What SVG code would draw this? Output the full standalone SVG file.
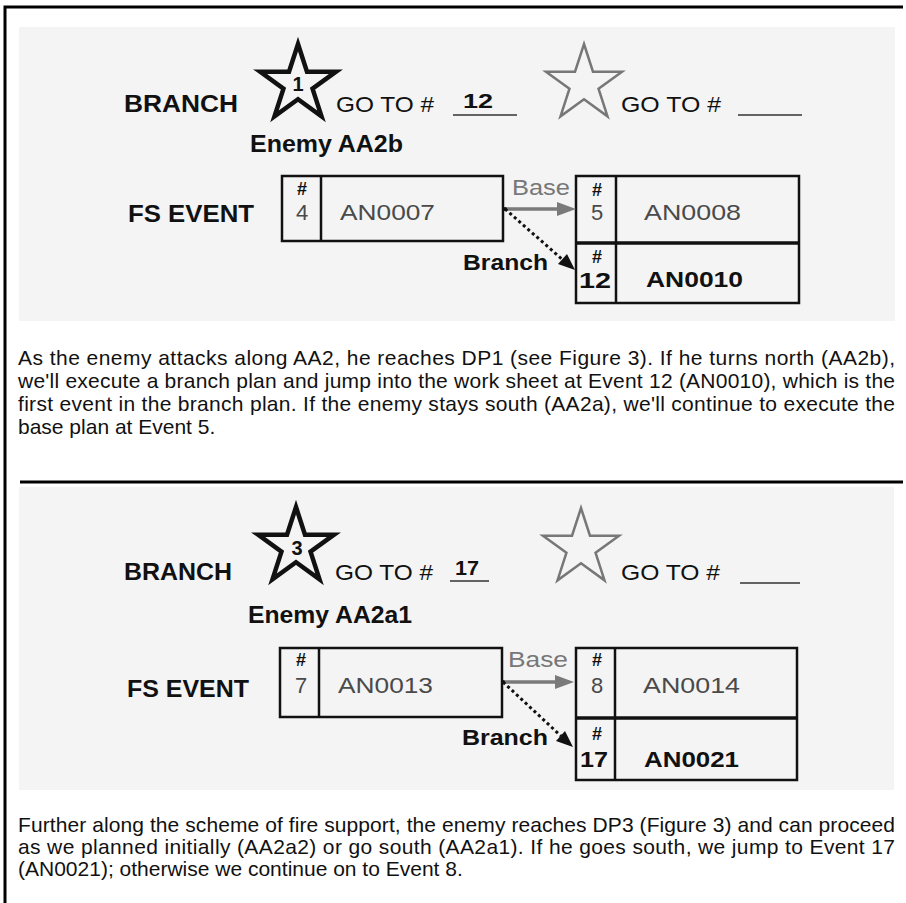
<svg xmlns="http://www.w3.org/2000/svg" width="906" height="903" viewBox="0 0 906 903">
<style>
.lbl{font-family:"Liberation Sans",Arial,sans-serif;font-size:22px;fill:#111}
.b{font-weight:bold}
.g{fill:#4a4a4a}
.lg{fill:#777}
.hash{font-family:"Liberation Sans",Arial,sans-serif;font-size:18px;font-weight:bold;fill:#111;text-anchor:middle}
.num{text-anchor:middle}
.para{font-family:"Liberation Sans",Arial,sans-serif;font-size:21px;fill:#111}
.box{fill:none;stroke:#111;stroke-width:2.5}
.starB{fill:none;stroke:#111;stroke-width:4.5;stroke-linejoin:miter}
.starG{fill:none;stroke:#777;stroke-width:2.5;stroke-linejoin:miter}
.ul{stroke:#333;stroke-width:1.5}
.frame{stroke:#000;stroke-width:3;fill:none}
.scan{fill:#f4f4f4}
.base{stroke:#7a7a7a;stroke-width:3.5;fill:none}
.brn{stroke:#111;stroke-width:3;stroke-dasharray:3 3;fill:none}
</style>
<defs>
<path id="star" d="M0,-40 L8.98,-12.36 L38.04,-12.36 L14.53,4.72 L23.51,32.36 L0,15.28 L-23.51,32.36 L-14.53,4.72 L-38.04,-12.36 L-8.98,-12.36 Z"/>
</defs>
<rect width="906" height="903" fill="#fff"/>
<!-- frame -->
<path class="frame" d="M5,903 V7 H903"/>
<line class="frame" x1="20" y1="482" x2="903" y2="482"/>
<!-- scanned backgrounds -->
<rect class="scan" x="19" y="27" width="876" height="294"/>
<rect class="scan" x="19" y="487" width="875" height="303"/>

<!-- ===== Section 1 ===== -->
<g id="header1">
<text class="lbl b" x="124" y="112" style="font-size:23px" textLength="114" lengthAdjust="spacingAndGlyphs">BRANCH</text>
<use href="#star" class="starB" x="298" y="84"/>
<text class="lbl b num" x="298" y="91" style="font-size:20px">1</text>
<text class="lbl" x="336" y="112" textLength="98" lengthAdjust="spacingAndGlyphs">GO TO #</text>
<text class="lbl b" x="463" y="108" style="font-size:20px" textLength="30" lengthAdjust="spacingAndGlyphs">12</text>
<line class="ul" x1="453" y1="115" x2="517" y2="115"/>
<use href="#star" class="starG" x="584" y="84"/>
<text class="lbl" x="621" y="112" textLength="100" lengthAdjust="spacingAndGlyphs">GO TO #</text>
<line class="ul" x1="738" y1="115" x2="802" y2="115"/>
<text class="lbl b" x="250" y="152" style="font-size:23px" textLength="153" lengthAdjust="spacingAndGlyphs">Enemy AA2b</text>
<text class="lbl b" x="128" y="222" style="font-size:23px" textLength="126" lengthAdjust="spacingAndGlyphs">FS EVENT</text>
</g>
<g id="event4">
<rect class="box" x="282" y="176" width="221" height="65"/>
<line class="box" x1="321" y1="176" x2="321" y2="241"/>
<text class="hash" x="302" y="195">#</text>
<text class="lbl g num" x="302" y="220">4</text>
<text class="lbl g" x="340" y="220" textLength="95" lengthAdjust="spacingAndGlyphs">AN0007</text>
</g>
<g id="event5-12">
<rect class="box" x="576" y="176" width="223" height="127"/>
<line class="box" x1="616" y1="176" x2="616" y2="303"/>
<line x1="576" y1="243" x2="799" y2="243" stroke="#111" stroke-width="3.5"/>
<text class="hash" x="597" y="196">#</text>
<text class="lbl g num" x="597" y="220">5</text>
<text class="lbl g" x="644" y="220" textLength="97" lengthAdjust="spacingAndGlyphs">AN0008</text>
<text class="hash" x="597" y="263">#</text>
<text class="lbl b num" x="595" y="288" textLength="32" lengthAdjust="spacingAndGlyphs">12</text>
<text class="lbl b" x="646" y="287" textLength="97" lengthAdjust="spacingAndGlyphs">AN0010</text>
</g>
<g id="connectors1">
<text class="lbl lg" x="512" y="195" textLength="58" lengthAdjust="spacingAndGlyphs">Base</text>
<line class="base" x1="505" y1="209" x2="560" y2="209"/>
<polygon points="576,209 557,202 557,216" fill="#7a7a7a"/>
<circle cx="505" cy="209" r="2" fill="#111"/>
<line class="brn" x1="505" y1="209" x2="563" y2="260"/>
<polygon points="575,270 558,264 567,254" fill="#111"/>
<text class="lbl b" x="463" y="270" textLength="85" lengthAdjust="spacingAndGlyphs">Branch</text>
</g>
<g id="para1">
<text class="para" x="18" y="365" textLength="877" lengthAdjust="spacing">As the enemy attacks along AA2, he reaches DP1 (see Figure 3). If he turns north (AA2b),</text>
<text class="para" x="18" y="388" textLength="877" lengthAdjust="spacing">we'll execute a branch plan and jump into the work sheet at Event 12 (AN0010), which is the</text>
<text class="para" x="18" y="411" textLength="877" lengthAdjust="spacing">first event in the branch plan. If the enemy stays south (AA2a), we'll continue to execute the</text>
<text class="para" x="18" y="434">base plan at Event 5.</text>
</g>

<!-- ===== Section 2 ===== -->
<g id="header2">
<text class="lbl b" x="124" y="580" style="font-size:23px" textLength="108" lengthAdjust="spacingAndGlyphs">BRANCH</text>
<use href="#star" class="starB" x="296" y="547"/>
<text class="lbl b num" x="297" y="555" style="font-size:20px">3</text>
<text class="lbl" x="335" y="580" textLength="98" lengthAdjust="spacingAndGlyphs">GO TO #</text>
<text class="lbl b" x="455" y="575" style="font-size:20px" textLength="24" lengthAdjust="spacingAndGlyphs">17</text>
<line class="ul" x1="450" y1="581" x2="489" y2="581"/>
<use href="#star" class="starG" x="581" y="548"/>
<text class="lbl" x="621" y="580" textLength="99" lengthAdjust="spacingAndGlyphs">GO TO #</text>
<line class="ul" x1="740" y1="583" x2="800" y2="583"/>
<text class="lbl b" x="248" y="623" style="font-size:23px" textLength="164" lengthAdjust="spacingAndGlyphs">Enemy AA2a1</text>
<text class="lbl b" x="127" y="697" style="font-size:23px" textLength="122" lengthAdjust="spacingAndGlyphs">FS EVENT</text>
</g>
<g id="event7">
<rect class="box" x="280" y="648" width="222" height="69"/>
<line class="box" x1="319" y1="648" x2="319" y2="717"/>
<text class="hash" x="301" y="666">#</text>
<text class="lbl g num" x="301" y="693">7</text>
<text class="lbl g" x="338" y="693" textLength="95" lengthAdjust="spacingAndGlyphs">AN0013</text>
</g>
<g id="event8-17">
<rect class="box" x="576" y="648" width="221" height="132"/>
<line class="box" x1="615" y1="648" x2="615" y2="780"/>
<line x1="576" y1="718" x2="797" y2="718" stroke="#111" stroke-width="3.5"/>
<text class="hash" x="597" y="666">#</text>
<text class="lbl g num" x="597" y="693">8</text>
<text class="lbl g" x="643" y="693" textLength="97" lengthAdjust="spacingAndGlyphs">AN0014</text>
<text class="hash" x="597" y="740">#</text>
<text class="lbl b num" x="594" y="767" textLength="28" lengthAdjust="spacingAndGlyphs">17</text>
<text class="lbl b" x="644" y="767" textLength="95" lengthAdjust="spacingAndGlyphs">AN0021</text>
</g>
<g id="connectors2">
<text class="lbl lg" x="508" y="667" textLength="60" lengthAdjust="spacingAndGlyphs">Base</text>
<line class="base" x1="503" y1="682" x2="558" y2="682"/>
<polygon points="574,682 555,675 555,689" fill="#7a7a7a"/>
<circle cx="503" cy="682" r="2" fill="#111"/>
<line class="brn" x1="503" y1="682" x2="561" y2="736"/>
<polygon points="573,747 556,741 565,731" fill="#111"/>
<text class="lbl b" x="462" y="745" textLength="86" lengthAdjust="spacingAndGlyphs">Branch</text>
</g>
<g id="para2">
<text class="para" x="18" y="832" textLength="877" lengthAdjust="spacing">Further along the scheme of fire support, the enemy reaches DP3 (Figure 3) and can proceed</text>
<text class="para" x="18" y="854" textLength="877" lengthAdjust="spacing">as we planned initially (AA2a2) or go south (AA2a1). If he goes south, we jump to Event 17</text>
<text class="para" x="18" y="876">(AN0021); otherwise we continue on to Event 8.</text>
</g>
</svg>
